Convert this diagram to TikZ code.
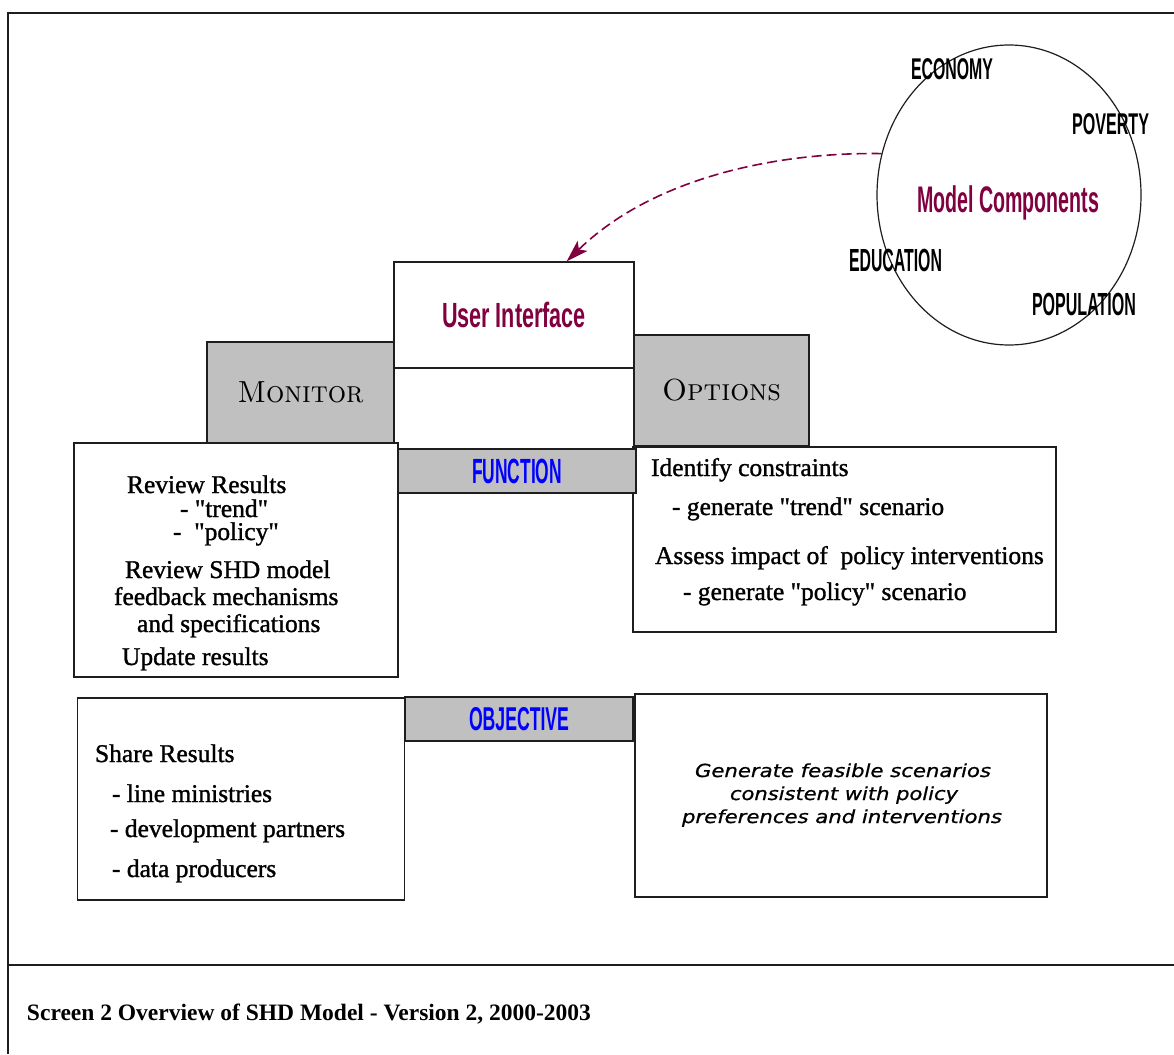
\documentclass[tikz,border=0pt]{standalone}
\usepackage{fontspec}
\usepackage{graphicx}
\usetikzlibrary{shapes.geometric,arrows.meta,calc}

\newfontfamily\labelfont{Liberation Sans}
\newfontfamily\bodyfont{Liberation Serif}[FakeBold=1.2]
\newfontfamily\captionfont{Liberation Serif}
\newfontfamily\notefont{DejaVu Sans}[FakeBold=0.8]

\definecolor{plum}{RGB}{128,0,64}
\definecolor{panelgray}{RGB}{192,192,192}
\definecolor{edge}{RGB}{30,30,30}
\definecolor{labelblue}{RGB}{0,0,255}

% squeeze a piece of text to a given width, keeping its height
\newcommand\fitw[2]{\resizebox{#1}{\height}{#2}}

\begin{document}
\begin{tikzpicture}[x=1pt,y=-1pt,
  box/.style={draw=edge, line width=1.4pt, fill=white, rectangle, inner sep=0pt},
  shadebox/.style={box, fill=panelgray},
  tag/.style={inner sep=0pt, outer sep=0pt, anchor=base west},
  block/.style={font=\labelfont\bfseries\fontsize{#1}{#1}\selectfont},
  body/.style={tag, font=\bodyfont\fontsize{25.5}{30}\selectfont},
  note/.style={inner sep=0pt, anchor=base, font=\notefont\itshape\fontsize{18}{22}\selectfont},
  smallcap/.style={font=\fontsize{30.5}{34}\selectfont\scshape\addfontfeatures{FakeBold=1.2}}
]
\useasboundingbox (0,0) rectangle (1174,1054);
\fill[white] (0,0) rectangle (1174,1054);

% page frame and caption rule
\draw[edge, line width=2pt] (8,1054) -- (8,13) -- (1174,13);
\draw[edge, line width=2pt] (8,965) -- (1174,965);

% model components
\node[draw=edge, line width=1.2pt, ellipse, minimum width=264pt, minimum height=300pt, inner sep=0pt] (comp) at (1009,195) {};
\node[tag, block=37, text=plum] (mc) at (917,212) {\fitw{182pt}{Model Components}};
\node[tag, block=30] (eco) at (911,80) {\fitw{82pt}{ECONOMY}};
\node[tag, block=30] (pov) at (1072,134) {\fitw{77pt}{POVERTY}};
\node[tag, block=32] (edu) at (849,271) {\fitw{93pt}{EDUCATION}};
\node[tag, block=32] (pop) at (1032,315) {\fitw{104pt}{POPULATION}};

% central column
\node[box, minimum width=240pt, minimum height=81pt] (uilow) at (514,408.5) {};
\node[box, minimum width=240pt, minimum height=106pt, block=35, text=plum] (ui) at (514,315) {\fitw{144pt}{User Interface}};

% tabs
\node[shadebox, minimum width=187pt, minimum height=101pt, smallcap] (mon) at (300.5,392.5) {\fitw{126pt}{Monitor}};
\node[shadebox, minimum width=175pt, minimum height=111pt, smallcap] (opt) at (721.5,390.5) {\fitw{119pt}{Options}};

% function row
\node[box, minimum width=324pt, minimum height=234pt] (monbox) at (236,560) {};
\node[box, minimum width=423pt, minimum height=185pt] (optbox) at (844.5,539.5) {};
\node[shadebox, minimum width=238pt, minimum height=44pt, block=35, text=labelblue] (func) at (517,471) {\fitw{90pt}{FUNCTION}};

% objective row
\node[box, minimum width=327pt, minimum height=202pt] (share) at (241,799) {};
\node[box, minimum width=412pt, minimum height=203pt] (gen) at (841,795.5) {};
\node[shadebox, minimum width=228pt, minimum height=44pt, block=33, text=labelblue] (obj) at (519,719) {\fitw{100pt}{OBJECTIVE}};

% monitor text
\node[body] (lt1) at (127,493) {Review Results};
\node[body] (lt2) at (180,517) {- "trend"};
\node[body] (lt3) at (173,540) {-~~"policy"};
\node[body] (lt4) at (125,578) {Review SHD model};
\node[body] (lt5) at (114,605) {feedback mechanisms};
\node[body] (lt6) at (137,632) {and specifications};
\node[body] (lt7) at (122,665) {Update results};

% options text
\node[body] (rt1) at (651,476) {Identify constraints};
\node[body] (rt2) at (672,515) {- generate "trend" scenario};
\node[body] (rt3) at (655,564) {Assess impact of~ policy interventions};
\node[body] (rt4) at (683,600) {- generate "policy" scenario};

% sharing text
\node[body] (lb1) at (95,762) {Share Results};
\node[body] (lb2) at (112,802) {- line ministries};
\node[body] (lb3) at (110,837) {- development partners};
\node[body] (lb4) at (112,877) {- data producers};

% objective statement
\node[note] (it1) at (843,777) {\fitw{296pt}{Generate feasible scenarios}};
\node[note] (it2) at (844,800) {\fitw{228pt}{consistent with policy}};
\node[note] (it3) at (842,823) {\fitw{320pt}{preferences and interventions}};

% link from the components to the interface
\draw[plum, line width=1.6pt, dash pattern=on 10pt off 5pt,
      -{Stealth[length=22pt,width=14pt,inset=5pt]}]
  (comp.162) .. controls (771,152) and (650,180) .. ([xshift=-68pt]ui.north east);

% caption
\node[tag, font=\captionfont\bfseries\fontsize{23.5}{28}\selectfont] (cap) at (27,1020) {Screen 2 Overview of SHD Model - Version 2, 2000-2003};
\end{tikzpicture}
\end{document}
